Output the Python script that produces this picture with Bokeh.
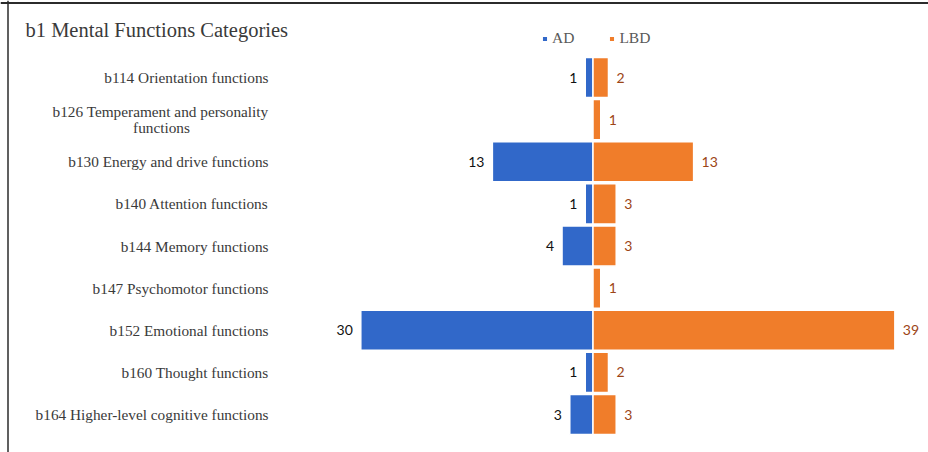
from bokeh.plotting import figure
from bokeh.models import Range1d, ColumnDataSource, Legend, LegendItem, Span
from bokeh.core.properties import value
from bokeh.embed import file_html
from bokeh.resources import INLINE

# ---- data ----
title = "b1 Mental Functions Categories"
categories = [
    "b114 Orientation functions",
    "b126 Temperament and personality\nfunctions",
    "b130 Energy and drive functions",
    "b140 Attention functions",
    "b144 Memory functions",
    "b147 Psychomotor functions",
    "b152 Emotional functions",
    "b160 Thought functions",
    "b164 Higher-level cognitive functions",
]
ad = [1, 0, 13, 1, 4, 0, 30, 1, 3]
lbd = [2, 1, 13, 3, 3, 1, 39, 2, 3]
series = ["AD", "LBD"]

# ---- layout / style ----
W, H = 928, 452
CX = 592.5   # pixel of zero on x
SX = 7.74    # px per unit on x
Y0 = 77.0    # pixel of first row centre
SY = 42.125  # px per row

BLUE = "#3168C9"
ORANGE = "#F07D2A"
LBD_TXT = "#9C4516"
GREY = "#3a3a3a"
SERIF = "Liberation Serif"
SANS = "Lato"


def px2x(px):
    return (px - CX) / SX


def py2y(py):
    return (py - Y0) / SY


p = figure(width=W, height=H,
           x_range=Range1d(-CX / SX, (W - CX) / SX),
           y_range=Range1d((H - Y0) / SY, -Y0 / SY),
           min_border=0, toolbar_location=None, output_backend="svg",
           x_axis_location=None, y_axis_location=None,
           outline_line_color=None, background_fill_color="white",
           border_fill_color="white")
p.grid.visible = False

idx = list(range(len(categories)))
src = ColumnDataSource(dict(y=idx, ad_left=[-v for v in ad], lbd=lbd))

ad_r = p.hbar(y="y", left="ad_left", right=0, height=0.955, source=src,
              fill_color=BLUE, line_color="white", line_width=1.5)
lbd_r = p.hbar(y="y", left=0, right="lbd", height=0.955, source=src,
               fill_color=ORANGE, line_color="white", line_width=1.5)

# value labels
ad_y = [i for i, v in zip(idx, ad) if v > 0]
ad_v = [v for v in ad if v > 0]
p.text(x=[-v for v in ad_v], y=ad_y, text=[str(v) for v in ad_v],
       text_align="right", text_baseline="middle", x_offset=-8,
       text_font=value(SANS), text_font_size="14px", text_color="#111111")
lb_y = [i for i, v in zip(idx, lbd) if v > 0]
lb_v = [v for v in lbd if v > 0]
p.text(x=lb_v, y=lb_y, text=[str(v) for v in lb_v],
       text_align="left", text_baseline="middle", x_offset=8,
       text_font=value(SANS), text_font_size="14px", text_color=LBD_TXT)

# category labels
lab_x = px2x(268)
for i, c in enumerate(categories):
    parts = c.split("\n")
    if len(parts) == 1:
        p.text(x=[lab_x], y=[i], text=[c], text_align="right",
               text_baseline="middle", text_font=value(SERIF),
               text_font_size="15.3px", text_color=GREY)
    else:
        p.text(x=[lab_x], y=[i], text=[parts[0]], text_align="right",
               text_baseline="middle", y_offset=-8, text_font=value(SERIF),
               text_font_size="15.3px", text_color=GREY)
        p.text(x=[px2x(161)], y=[i], text=[parts[1]], text_align="center",
               text_baseline="middle", y_offset=8, text_font=value(SERIF),
               text_font_size="15.3px", text_color=GREY)

# title
p.text(x=[px2x(25)], y=[py2y(29)], text=[title], text_align="left",
       text_baseline="middle", text_font=value(SERIF),
       text_font_size="20.5px", text_color=GREY)

# legend
legend = Legend(items=[LegendItem(label=series[0], renderers=[ad_r]),
                       LegendItem(label=series[1], renderers=[lbd_r])],
                orientation="horizontal", location=(541, 405),
                glyph_width=7, glyph_height=7, label_standoff=4, spacing=34,
                padding=0, margin=0, border_line_color=None,
                background_fill_alpha=0, label_text_font=SERIF,
                label_text_font_size="15.5px", label_text_color="#595959")
p.add_layout(legend)

# frame edges (top and left)
p.add_layout(Span(location=py2y(2.5), dimension="width",
                  line_color="#2b2b2b", line_width=2))
p.add_layout(Span(location=px2x(7.5), dimension="height",
                  line_color="#2b2b2b", line_width=1.5))

open("out.html", "w").write(file_html(p, INLINE))
